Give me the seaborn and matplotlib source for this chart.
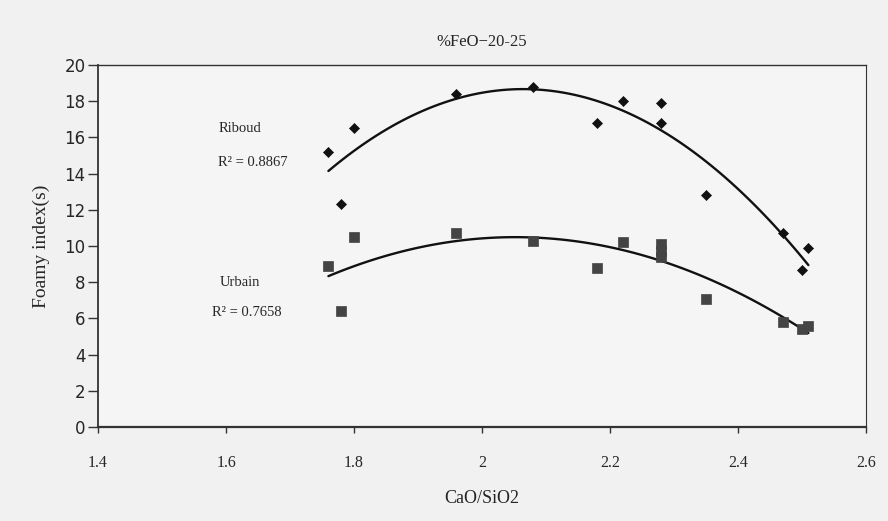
import numpy as np
import pandas as pd
import matplotlib
matplotlib.use('Agg')
import matplotlib.pyplot as plt
import seaborn as sns

# Data
riboud_x = [1.76, 1.78, 1.80, 1.96, 2.08, 2.18, 2.22, 2.28, 2.28, 2.35, 2.47, 2.50, 2.51]
riboud_y = [15.2, 12.3, 16.5, 18.4, 18.8, 16.8, 18.0, 17.9, 16.8, 12.8, 10.7, 8.7, 9.9]

urbain_x = [1.76, 1.78, 1.80, 1.96, 2.08, 2.18, 2.22, 2.28, 2.28, 2.28, 2.35, 2.47, 2.50, 2.51]
urbain_y = [8.9, 6.4, 10.5, 10.7, 10.3, 8.8, 10.2, 10.1, 9.7, 9.4, 7.1, 5.8, 5.4, 5.6]

x_ticks = [1.4, 1.6, 1.8, 2.0, 2.2, 2.4, 2.6]
x_tick_labels = ['1.4', '1.6', '1.8', '2', '2.2', '2.4', '2.6']
y_ticks = list(range(0, 21, 2))

df_r = pd.DataFrame({'x': riboud_x, 'y': riboud_y})
df_u = pd.DataFrame({'x': urbain_x, 'y': urbain_y})

sns.set_style('white')
plt.rcParams['font.family'] = ['Liberation Serif', 'DejaVu Serif']

fig = plt.figure(figsize=(8.88, 5.21), dpi=100, facecolor='#f1f1f1')
ax = fig.add_axes([0.1104, 0.1804, 0.8648, 0.6948])
ax.set_facecolor('#f5f5f5')

# 2nd order trendlines, like the spreadsheet fit
sns.regplot(data=df_r, x='x', y='y', order=2, ci=None, scatter=False, truncate=True,
            line_kws={'color': '#111111', 'lw': 1.7}, ax=ax)
sns.regplot(data=df_u, x='x', y='y', order=2, ci=None, scatter=False, truncate=True,
            line_kws={'color': '#111111', 'lw': 1.7}, ax=ax)

sns.scatterplot(data=df_r, x='x', y='y', marker='D', s=26, color='#111111',
                edgecolor='#111111', linewidth=0.5, ax=ax, zorder=3)
sns.scatterplot(data=df_u, x='x', y='y', marker='s', s=52, color='#444444',
                edgecolor='#444444', linewidth=0.5, ax=ax, zorder=3)

ax.set_xlim(1.4, 2.6)
ax.set_ylim(0, 20)
ax.set_xticks(x_ticks)
ax.set_xticklabels(x_tick_labels, fontsize=11.5)
ax.set_yticks(y_ticks)
for lab in ax.get_yticklabels():
    lab.set_fontfamily('DejaVu Sans')
    lab.set_fontsize(12)
# seaborn's white style hides tick marks, bring them back
ax.tick_params(axis='y', left=True, direction='out', length=7, width=1, color='#333333', pad=2)
ax.tick_params(axis='x', bottom=True, direction='out', length=4, width=1, color='#333333', pad=16)

for side in ['left', 'bottom', 'top', 'right']:
    ax.spines[side].set_color('#333333')
ax.spines['left'].set_linewidth(1.3)
ax.spines['bottom'].set_linewidth(1.6)
ax.spines['top'].set_linewidth(1.0)
ax.spines['right'].set_linewidth(0.8)

ax.set_xlabel('CaO/SiO2', fontsize=13, labelpad=14)
ax.set_ylabel('Foamy index(s)', fontsize=14, labelpad=10)
ax.set_title('%FeO\u221220-25', fontsize=12, pad=14)

ax.text(1.622, 16.5, 'Riboud', fontsize=10.5, ha='center', va='center')
ax.text(1.641, 14.6, 'R\u00b2 = 0.8867', fontsize=10.5, ha='center', va='center')
ax.text(1.622, 7.96, 'Urbain', fontsize=10.5, ha='center', va='center')
ax.text(1.633, 6.35, 'R\u00b2 = 0.7658', fontsize=10.5, ha='center', va='center')

fig.savefig('out.png', dpi=100, facecolor=fig.get_facecolor())
